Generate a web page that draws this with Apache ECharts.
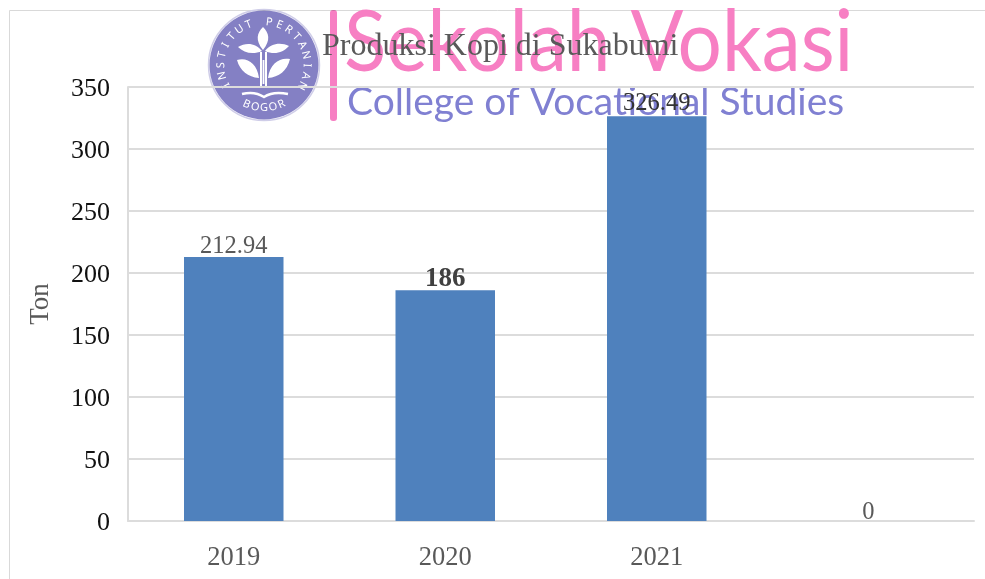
<!DOCTYPE html>
<html>
<head>
<meta charset="utf-8">
<style>
  html, body { margin: 0; padding: 0; background: #fff; }
  #main { width: 985px; height: 579px; }
</style>
<script src="https://cdn.jsdelivr.net/npm/echarts@6/dist/echarts.min.js"></script>
</head>
<body>
<div id="main"></div>
<script>
var years = ['2019', '2020', '2021', '']
var production = [212.94, 186, 326.49, 0]
var titleText = 'Produksi Kopi di Sukabumi'
var axisName = 'Ton'

var serif = '"Liberation Serif", serif'
var LOGO = '#8480c4'

// ring lettering of the logo, one glyph per step along the circle
function ringText(str, startDeg, stepDeg, radius, flip) {
  var out = []
  for (var i = 0; i < str.length; i++) {
    var deg = startDeg + i * stepDeg
    var a = deg * Math.PI / 180
    out.push({
      type: 'text',
      x: 264 + radius * Math.sin(a),
      y: 65 - radius * Math.cos(a),
      rotation: flip ? -(deg - 180) * Math.PI / 180 : -a,
      style: {
        text: str[i],
        fill: '#fff',
        font: '11px "Noto Sans", sans-serif',
        align: 'center',
        verticalAlign: 'middle',
      },
    })
  }
  return out
}

var whiteLeaves = [
  'M263 27 C257 33 255 40 263 50 C271 40 269 33 263 27 Z',
  'M238 47 C246 42 256 43 262 51 C253 55 244 53 238 47 Z',
  'M289 46 C281 42 271 43 265 51 C274 55 283 53 289 46 Z',
  'M237 60 C247 57 257 63 259 78 C248 77 240 71 237 60 Z',
  'M290 59 C280 57 270 63 268 78 C279 77 287 71 290 59 Z',
  'M260 52 L262 52 L262 88 L260 88 Z',
  'M265 52 L267 52 L267 88 L265 88 Z',
  'M262.6 60 L264.4 60 L264.4 84 L262.6 84 Z',
]

echarts.graphic.registerShape('logoLeaves', echarts.graphic.extendPath(whiteLeaves.join(' '), {}))
echarts.graphic.registerShape('logoBook', echarts.graphic.extendPath('M242 94 C250 92 258 93 264 97 C270 93 278 92 288 94', {}))

var logo = [
  {
    type: 'circle',
    shape: { cx: 264, cy: 65, r: 55.5 },
    style: { fill: 'none', stroke: '#cfcde8', lineWidth: 1.5 },
  },
  {
    type: 'circle',
    shape: { cx: 264, cy: 65, r: 54.5 },
    style: { fill: LOGO, blend: 'multiply' },
  },
  {
    type: 'logoLeaves',
    style: { fill: '#fff' },
  },
  {
    type: 'logoBook',
    style: { fill: 'none', stroke: '#fff', lineWidth: 2.5 },
  },
  {
    type: 'rect',
    shape: { x: 330, y: 10, width: 7, height: 111, r: 3 },
    style: { fill: '#f77fc3', blend: 'multiply' },
  },
  {
    type: 'text',
    x: 344,
    y: 86,
    scaleX: 0.91,
    style: {
      text: 'Sekolah Vokasi',
      fill: '#f77fc3',
      font: '86px Lato, sans-serif',
      verticalAlign: 'bottom',
      blend: 'multiply',
    },
  },
  {
    type: 'text',
    x: 347,
    y: 122,
    style: {
      text: 'College of Vocational Studies',
      fill: '#8080d2',
      font: '39px Lato, sans-serif',
      verticalAlign: 'bottom',
      blend: 'multiply',
    },
  },
]
  .concat(ringText('INSTITUT PERTANIAN', -118, 13.9, 43, false))
  .concat(ringText('BOGOR', 204, -12, 43, true))

var chart = echarts.init(document.getElementById('main'), null, { renderer: 'canvas' })

var option = {
  animation: false,
  backgroundColor: '#fff',
  title: {
    text: titleText,
    left: 317,
    top: 26,
    textStyle: { color: '#595959', fontFamily: serif, fontSize: 32, fontWeight: 'normal' },
  },
  grid: { left: 128, right: 11, top: 87, bottom: 58 },
  xAxis: {
    type: 'category',
    data: years,
    axisTick: { show: false },
    axisLine: { lineStyle: { color: '#dcdcdc', width: 2 } },
    axisLabel: { color: '#595959', fontFamily: serif, fontSize: 26.5, margin: 24 },
  },
  yAxis: {
    type: 'value',
    min: 0,
    max: 350,
    interval: 50,
    name: axisName,
    nameLocation: 'middle',
    nameGap: 74,
    nameTextStyle: { color: '#595959', fontFamily: serif, fontSize: 27 },
    axisLine: { show: true, lineStyle: { color: '#dcdcdc', width: 2 } },
    axisTick: { show: false },
    // top aligned with a short line box, sits the digits 2px under the gridline
    axisLabel: { color: '#111', fontFamily: serif, fontSize: 26, margin: 18, verticalAlign: 'top', lineHeight: 4 },
    splitLine: { lineStyle: { color: '#dcdcdc', width: 2 } },
  },
  series: [
    {
      type: 'bar',
      barWidth: 99.5,
      itemStyle: { color: '#4f81bd' },
      label: {
        show: true,
        position: 'top',
        distance: -2,
        color: '#595959',
        fontFamily: serif,
        fontSize: 24.5,
      },
      data: production.map(function (v, i) {
        if (v === 186) {
          return { value: v, label: { fontWeight: 'bold', color: '#404040', fontSize: 27, distance: -2 } }
        }
        if (i === 2) {
          return { value: v, label: { color: '#333', distance: 0 } }
        }
        if (v === 0) {
          return { value: v, label: { distance: -4 } }
        }
        return v
      }),
    },
  ],
  graphic: [
    {
      type: 'rect',
      z: 0,
      silent: true,
      shape: { x: 9.5, y: 10.5, width: 1000, height: 600 },
      style: { fill: 'none', stroke: '#d9d9d9', lineWidth: 1 },
    },
    { type: 'group', z: 100, silent: true, children: logo },
  ],
}

chart.setOption(option)
</script>
</body>
</html>
